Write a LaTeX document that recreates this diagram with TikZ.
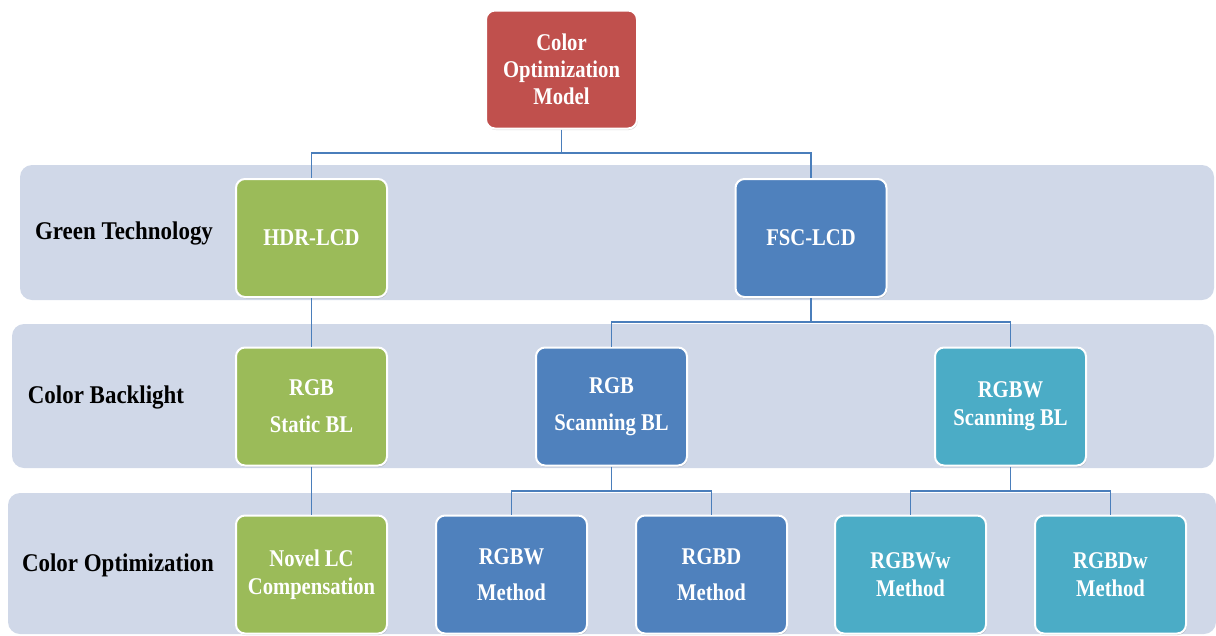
\documentclass[tikz,border=0pt]{standalone}
\usepackage{fontspec}
\setmainfont{Liberation Serif}[FakeStretch=0.86]
\newfontfamily\labelfont{Liberation Serif}[FakeStretch=0.9]
\usetikzlibrary{shadows}
\definecolor{bandcol}{HTML}{D0D8E8}
\definecolor{redcol}{HTML}{C0504D}
\definecolor{greencol}{HTML}{9BBB59}
\definecolor{bluecol}{HTML}{4F81BD}
\definecolor{tealcol}{HTML}{4BACC6}
\definecolor{linecol}{HTML}{4A7EBB}
\tikzset{
  band/.style={fill=bandcol, rounded corners=12pt, draw=none},
  box/.style={draw=white, line width=2pt, rounded corners=9pt, minimum width=151pt, minimum height=118pt,
    align=center, text=white, font=\bfseries\fontsize{24}{28}\selectfont, inner sep=0pt,
    drop shadow={opacity=0.3, shadow xshift=0.8pt, shadow yshift=-1.5pt}},
  rowlabel/.style={font=\labelfont\bfseries\fontsize{25.5}{30}\selectfont, text=black, inner sep=0pt},
  conn/.style={draw=linecol, line width=1.3pt}
}
\begin{document}
\begin{tikzpicture}[x=1pt,y=-1pt]
\useasboundingbox (0,0) rectangle (1216,635);
% bands
\fill[band] (20,165) rectangle (1214,300);
\fill[band] (12,324) rectangle (1214,468);
\fill[band] (8,493) rectangle (1216,634);
% row labels
\node[rowlabel] (l1) at (124,233) {Green Technology};
\node[rowlabel] (l2) at (106,397) {Color Backlight};
\node[rowlabel] (l3) at (118,565) {Color Optimization};
% boxes
\node[box, fill=redcol] (root) at (561.5,69.5) {Color\\[-1pt]Optimization\\[-1pt]Model};
\node[box, fill=greencol] (hdr) at (311.5,238) {HDR-LCD};
\node[box, fill=bluecol] (fsc) at (811,238) {FSC-LCD};
\node[box, fill=greencol] (rgbs) at (311.5,406.5) {RGB\\[9pt]Static BL};
\node[box, fill=bluecol] (rgbsc) at (611.5,406.5) {RGB\\[9pt]Scanning BL};
\node[box, fill=tealcol] (rgbwsc) at (1010.5,406.5) {RGBW\\Scanning BL};
\node[box, fill=greencol] (novel) at (311.5,574.5) {Novel LC\\Compensation};
\node[box, fill=bluecol] (rgbwm) at (511.5,574.5) {RGBW\\[8pt]Method};
\node[box, fill=bluecol] (rgbdm) at (711.5,574.5) {RGBD\\[8pt]Method};
\node[box, fill=tealcol] (rgbwwm) at (910.5,574.5) {RGBWw\\Method};
\node[box, fill=tealcol] (rgbdwm) at (1110.5,574.5) {RGBDw\\Method};
% connectors
\coordinate (j1) at (561.5,153);
\coordinate (j2) at (811,322);
\coordinate (j3) at (611.5,491);
\coordinate (j4) at (1010.5,491);
\draw[conn] (root.south) -- (j1);
\draw[conn] (j1) -| (hdr.north);
\draw[conn] (j1) -| (fsc.north);
\draw[conn] (hdr.south) -- (rgbs.north);
\draw[conn] (fsc.south) -- (j2);
\draw[conn] (j2) -| (rgbsc.north);
\draw[conn] (j2) -| (rgbwsc.north);
\draw[conn] (rgbs.south) -- (novel.north);
\draw[conn] (rgbsc.south) -- (j3);
\draw[conn] (j3) -| (rgbwm.north);
\draw[conn] (j3) -| (rgbdm.north);
\draw[conn] (rgbwsc.south) -- (j4);
\draw[conn] (j4) -| (rgbwwm.north);
\draw[conn] (j4) -| (rgbdwm.north);
\end{tikzpicture}
\end{document}
